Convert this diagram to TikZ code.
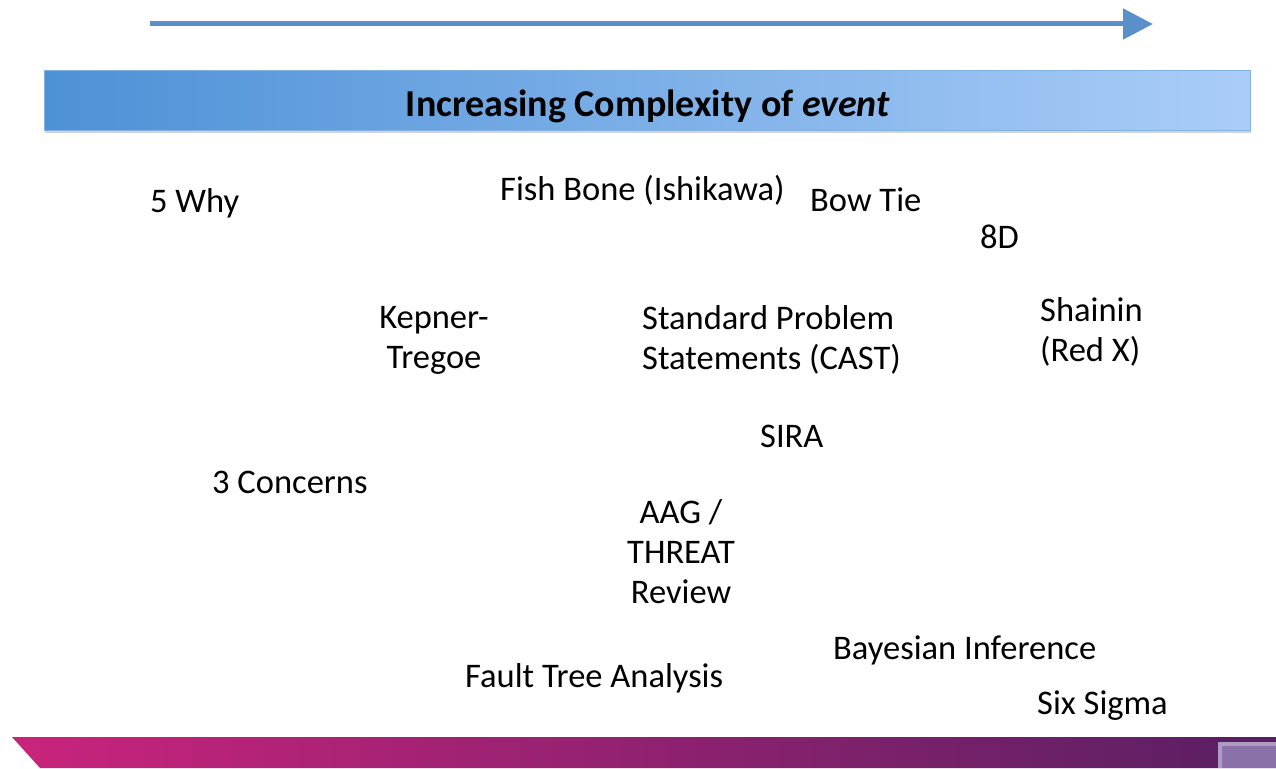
\documentclass[tikz,border=0pt]{standalone}
\usepackage{fontspec}
\setmainfont{Carlito}
\usetikzlibrary{arrows.meta}
\usetikzlibrary{shadows}
\definecolor{arrowblue}{HTML}{5A8FC9}
\definecolor{bannerleft}{HTML}{4D91D6}
\definecolor{bannerright}{HTML}{AACDF8}
\definecolor{barleft}{HTML}{C9247C}
\definecolor{barright}{HTML}{581F63}
\definecolor{buttonpurple}{HTML}{8A71AA}
\tikzstyle{method}=[inner sep=0pt, yshift=-2pt, font=\fontsize{34.5}{40}\selectfont]
\tikzstyle{banner}=[left color=bannerleft, right color=bannerright, draw=bannerleft!70!white, line width=0.8pt, drop shadow={shadow xshift=1pt, shadow yshift=-3pt, opacity=0.35}]

\begin{document}
\begin{tikzpicture}[x=1pt, y=-1pt]
      \useasboundingbox (0,0) rectangle (1276,768);
      % direction arrow and heading
      \coordinate (low) at (150, 24);
      \coordinate (high) at (1153, 24);
      \draw[arrowblue, line width=5pt, -{Triangle[length=30pt, width=30pt]}] (low) -- (high);
      \draw[banner] (44, 70) rectangle (1250, 130);
      \node[method, font=\fontsize{38}{44}\selectfont\bfseries] (title) at (648, 104) {Increasing Complexity of \textit{event}};
      % methods, roughly left to right
      \node[method, anchor=west] (why) at (150, 201) {5 Why};
      \node[method, anchor=west] (fish) at (500, 188) {Fish Bone (Ishikawa)};
      \node[method, anchor=west] (bow) at (810, 198) {Bow Tie};
      \node[method, anchor=west] (eightd) at (980, 235) {8D};
      \node[method, align=center] (kt) at (434, 338) {Kepner-\\Tregoe};
      \node[method, align=left, anchor=west] (sps) at (642, 338) {Standard Problem\\Statements (CAST)};
      \node[method, align=left, anchor=west] (shainin) at (1040, 330) {Shainin\\(Red X)};
      \node[method, anchor=west] (sira) at (760, 434) {SIRA};
      \node[method, anchor=west] (concerns) at (212, 480) {3 Concerns};
      \node[method, align=center] (aag) at (681, 550) {AAG /\\THREAT\\Review};
      \node[method, anchor=west] (bayes) at (833, 648) {Bayesian Inference};
      \node[method, anchor=west] (fta) at (465, 676) {Fault Tree Analysis};
      \node[method, anchor=west] (sigma) at (1037, 704) {Six Sigma};
      % footer bar
      \shade[left color=barleft, right color=barright] (12, 737) -- (1276, 737) -- (1276, 768) -- (40, 768) -- cycle;
      \fill[buttonpurple] (1218, 742) rectangle (1276, 768);
      \fill[white, opacity=0.3] (1218, 742) -- (1276, 742) -- (1276, 746) -- (1222, 746) -- (1222, 768) -- (1218, 768) -- cycle;
    \end{tikzpicture}
\end{document}
